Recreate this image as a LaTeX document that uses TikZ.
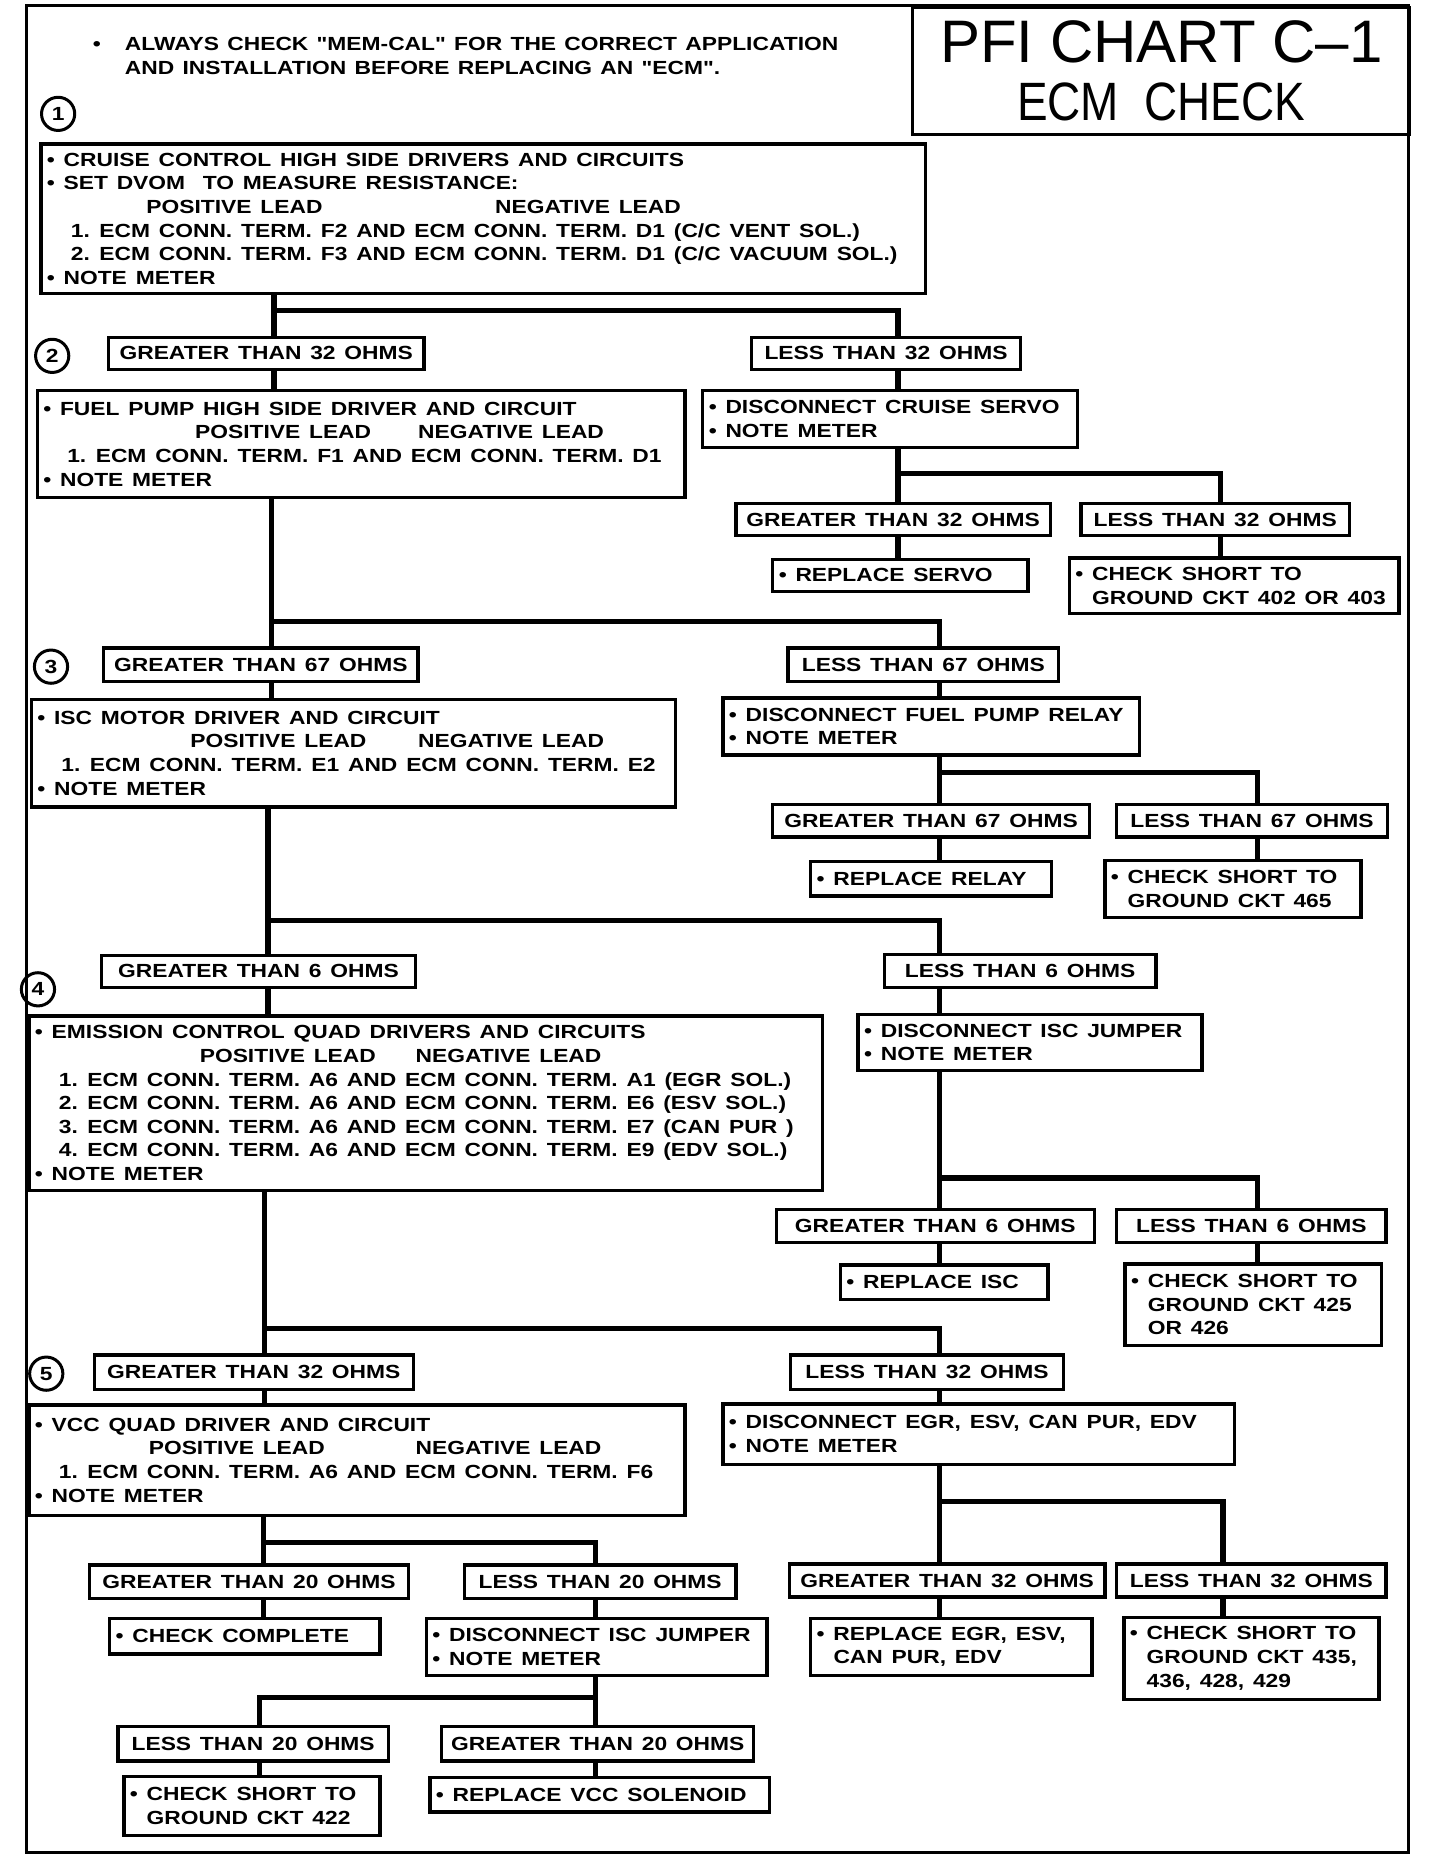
\documentclass[tikz,border=0pt]{standalone}
\usepackage{fontspec}
\usepackage{graphicx}
\setmainfont{Liberation Sans}[FakeStretch=1.2,WordSpace=1.3,Ligatures=TeXOff]
\newfontfamily\titlefam{Liberation Sans}
\usepackage{tikz}
\newcommand{\upx}{0.593pt}
\newcommand{\chartfont}{\fontsize{9.5}{11.8}\selectfont\bfseries}
\newcommand{\leads}[2]{\hspace*{#1}\makebox[#2][l]{POSITIVE LEAD}NEGATIVE LEAD}
\newcommand{\ind}{\hspace*{12pt}}
\newcommand{\hang}{\phantom{• }}
\tikzset{
  box/.style={draw,line width=1.7pt,fill=white,anchor=north west,inner xsep=3pt,inner ysep=2pt,
    font=\chartfont,execute at begin node={\spaceskip=4.4pt\relax}},
  ohmbox/.style={box,align=center},
  notebox/.style={box,align=left},
  sz/.style 2 args={minimum width=#1*\upx,minimum height=#2*\upx,text width=#1*\upx-6pt},
  wire/.style={line width=2.6pt},
  num/.style={circle,draw,line width=1.5pt,minimum size=28*\upx,inner sep=0pt,font=\chartfont},
}
\begin{document}
\begin{tikzpicture}[x=0.593pt,y=-0.593pt]
  \useasboundingbox (0,0) rectangle (1214,1568);
  \draw[line width=1.5pt] (22,5) rectangle (1187,1562);
  \node[draw,line width=1.7pt,anchor=north west,minimum width=419*\upx,minimum height=107*\upx,
    align=center,inner sep=0pt,font={\titlefam\fontsize{30}{29}\selectfont}] (title) at (768,5)
    {PFI CHART C–1\\
     \scalebox{0.85}[1]{\fontsize{27}{27}\selectfont ECM\ \ CHECK}};
  \node[font=\chartfont,align=left,anchor=north west,inner sep=0pt] (memcal) at (105,31)
    {\llap{•\hspace{12pt}}ALWAYS CHECK "MEM-CAL" FOR THE CORRECT APPLICATION\\
     AND INSTALLATION BEFORE REPLACING AN "ECM".};
  % step numbers
  \node[num] (n1) at (49,96) {1};
  \node[num] (n2) at (44,300) {2};
  \node[num] (n3) at (43,562) {3};
  \node[num] (n4) at (32,834) {4};
  \node[num] (n5) at (39,1158) {5};
  % step 1
  \node[notebox,sz={746}{126}] (crc) at (33,120)
    {• CRUISE CONTROL HIGH SIDE DRIVERS AND CIRCUITS\\
     • SET DVOM\ \ TO MEASURE RESISTANCE:\\
     \leads{49.8pt}{174.3pt}\\
     \ind 1. ECM CONN. TERM. F2 AND ECM CONN. TERM. D1 (C/C VENT SOL.)\\
     \ind 2. ECM CONN. TERM. F3 AND ECM CONN. TERM. D1 (C/C VACUUM SOL.)\\
     • NOTE METER};
  % step 2
  \node[ohmbox,sz={266}{27}] (gt1) at (90,283) {GREATER THAN 32 OHMS};
  \node[ohmbox,sz={227}{27}] (lt1) at (632,283) {LESS THAN 32 OHMS};
  \node[notebox,sz={546}{90}] (fuel) at (30,328)
    {• FUEL PUMP HIGH SIDE DRIVER AND CIRCUIT\\
     \leads{75.9pt}{111.5pt}\\
     \ind 1. ECM CONN. TERM. F1 AND ECM CONN. TERM. D1\\
     • NOTE METER};
  \node[notebox,sz={316}{48}] (srv) at (591,328) {• DISCONNECT CRUISE SERVO\\ • NOTE METER};
  \node[ohmbox,sz={265}{27}] (gt1b) at (619,423) {GREATER THAN 32 OHMS};
  \node[ohmbox,sz={226}{27}] (lt1b) at (910,423) {LESS THAN 32 OHMS};
  \node[notebox,sz={215}{27}] (rsrv) at (650,470) {• REPLACE SERVO};
  \node[notebox,sz={278}{47}] (cs1) at (900,469) {• CHECK SHORT TO\\ \hang GROUND CKT 402 OR 403};
  % step 3
  \node[ohmbox,sz={265}{28}] (gt2) at (86,545) {GREATER THAN 67 OHMS};
  \node[ohmbox,sz={228}{28}] (lt2) at (663,545) {LESS THAN 67 OHMS};
  \node[notebox,sz={543}{91}] (isc) at (25,588)
    {• ISC MOTOR DRIVER AND CIRCUIT\\
     \leads{76.5pt}{113.9pt}\\
     \ind 1. ECM CONN. TERM. E1 AND ECM CONN. TERM. E2\\
     • NOTE METER};
  \node[notebox,sz={351}{48}] (fpr) at (608,587) {• DISCONNECT FUEL PUMP RELAY\\ • NOTE METER};
  \node[ohmbox,sz={267}{27}] (gt2b) at (650,677) {GREATER THAN 67 OHMS};
  \node[ohmbox,sz={228}{27}] (lt2b) at (940,677) {LESS THAN 67 OHMS};
  \node[notebox,sz={203}{29}] (rrel) at (682,725) {• REPLACE RELAY};
  \node[notebox,sz={216}{48}] (cs2) at (930,724) {• CHECK SHORT TO\\ \hang GROUND CKT 465};
  % step 4
  \node[ohmbox,sz={265}{27}] (gt3) at (84,804) {GREATER THAN 6 OHMS};
  \node[ohmbox,sz={229}{28}] (lt3) at (744,803) {LESS THAN 6 OHMS};
  \node[notebox,sz={669}{147}] (emi) at (23,855)
    {• EMISSION CONTROL QUAD DRIVERS AND CIRCUITS\\
     \leads{82.4pt}{107.9pt}\\
     \ind 1. ECM CONN. TERM. A6 AND ECM CONN. TERM. A1 (EGR SOL.)\\
     \ind 2. ECM CONN. TERM. A6 AND ECM CONN. TERM. E6 (ESV SOL.)\\
     \ind 3. ECM CONN. TERM. A6 AND ECM CONN. TERM. E7 (CAN PUR )\\
     \ind 4. ECM CONN. TERM. A6 AND ECM CONN. TERM. E9 (EDV SOL.)\\
     • NOTE METER};
  \node[notebox,sz={290}{47}] (isj) at (722,854) {• DISCONNECT ISC JUMPER\\ • NOTE METER};
  \node[ohmbox,sz={268}{28}] (gt3b) at (653,1018) {GREATER THAN 6 OHMS};
  \node[ohmbox,sz={227}{28}] (lt3b) at (940,1018) {LESS THAN 6 OHMS};
  \node[notebox,sz={175}{29}] (risc) at (707,1065) {• REPLACE ISC};
  \node[notebox,sz={216}{69}] (cs3) at (947,1064) {• CHECK SHORT TO\\ \hang GROUND CKT 425\\ \hang OR 426};
  % step 5
  \node[ohmbox,sz={269}{29}] (gt4) at (78,1141) {GREATER THAN 32 OHMS};
  \node[ohmbox,sz={230}{29}] (lt4) at (665,1141) {LESS THAN 32 OHMS};
  \node[notebox,sz={553}{93}] (vcc) at (23,1183)
    {• VCC QUAD DRIVER AND CIRCUIT\\
     \leads{56.9pt}{133.4pt}\\
     \ind 1. ECM CONN. TERM. A6 AND ECM CONN. TERM. F6\\
     • NOTE METER};
  \node[notebox,sz={431}{51}] (egr) at (608,1182) {• DISCONNECT EGR, ESV, CAN PUR, EDV\\ • NOTE METER};
  \node[ohmbox,sz={266}{28}] (gt4b) at (664,1317) {GREATER THAN 32 OHMS};
  \node[ohmbox,sz={227}{28}] (lt4b) at (940,1317) {LESS THAN 32 OHMS};
  \node[notebox,sz={237}{48}] (regr) at (682,1363) {• REPLACE EGR, ESV,\\ \hang CAN PUR, EDV};
  \node[notebox,sz={215}{69}] (cs4) at (946,1362) {• CHECK SHORT TO\\ \hang GROUND CKT 435,\\ \hang 436, 428, 429};
  \node[ohmbox,sz={269}{28}] (gt5) at (74,1318) {GREATER THAN 20 OHMS};
  \node[ohmbox,sz={229}{28}] (lt5) at (390,1318) {LESS THAN 20 OHMS};
  \node[notebox,sz={228}{30}] (ccmp) at (91,1363) {• CHECK COMPLETE};
  \node[notebox,sz={287}{48}] (isj2) at (358,1363) {• DISCONNECT ISC JUMPER\\ • NOTE METER};
  \node[ohmbox,sz={228}{29}] (lt5b) at (98,1454) {LESS THAN 20 OHMS};
  \node[ohmbox,sz={263}{29}] (gt5b) at (371,1454) {GREATER THAN 20 OHMS};
  \node[notebox,sz={216}{50}] (cs5) at (103,1496) {• CHECK SHORT TO\\ \hang GROUND CKT 422};
  \node[notebox,sz={286}{29}] (rvcc) at (361,1497) {• REPLACE VCC SOLENOID};
  % branch points
  \coordinate (ja) at (231,262);  \coordinate (jb) at (757,262);
  \coordinate (sa) at (757,399);  \coordinate (sb) at (1029,399);
  \coordinate (jc) at (229,524);  \coordinate (jd) at (792,524);
  \coordinate (sc) at (792,651);  \coordinate (sd) at (1060,651);
  \coordinate (je) at (226,776);  \coordinate (jf) at (792,776);
  \coordinate (se) at (792,993);  \coordinate (sf) at (1060,993);
  \coordinate (jg) at (223,1120); \coordinate (jh) at (792,1120);
  \coordinate (si) at (792,1266); \coordinate (sj) at (1031,1266);
  \coordinate (sk) at (222,1300); \coordinate (sl) at (502,1300);
  \coordinate (sm) at (219,1431); \coordinate (sn) at (502,1431);
  \foreach \a/\g/\l/\b/\c/\p/\q in {crc/gt1/lt1/fuel/srv/ja/jb, srv/gt1b/lt1b/rsrv/cs1/sa/sb,
      fuel/gt2/lt2/isc/fpr/jc/jd, fpr/gt2b/lt2b/rrel/cs2/sc/sd,
      isc/gt3/lt3/emi/isj/je/jf, isj/gt3b/lt3b/risc/cs3/se/sf,
      emi/gt4/lt4/vcc/egr/jg/jh, egr/gt4b/lt4b/regr/cs4/si/sj,
      vcc/gt5/lt5/ccmp/isj2/sk/sl, isj2/gt5b/lt5b/rvcc/cs5/sn/sm}{
    \draw[wire] (\p |- \a.south) -- (\p) -- (\q) -- (\q |- \l.north);
    \draw[wire] (\p) -- (\p |- \g.north);
    \draw[wire] (\p |- \g.south) -- (\p |- \b.north);
    \draw[wire] (\q |- \l.south) -- (\q |- \c.north);
  }
\end{tikzpicture}
\end{document}
